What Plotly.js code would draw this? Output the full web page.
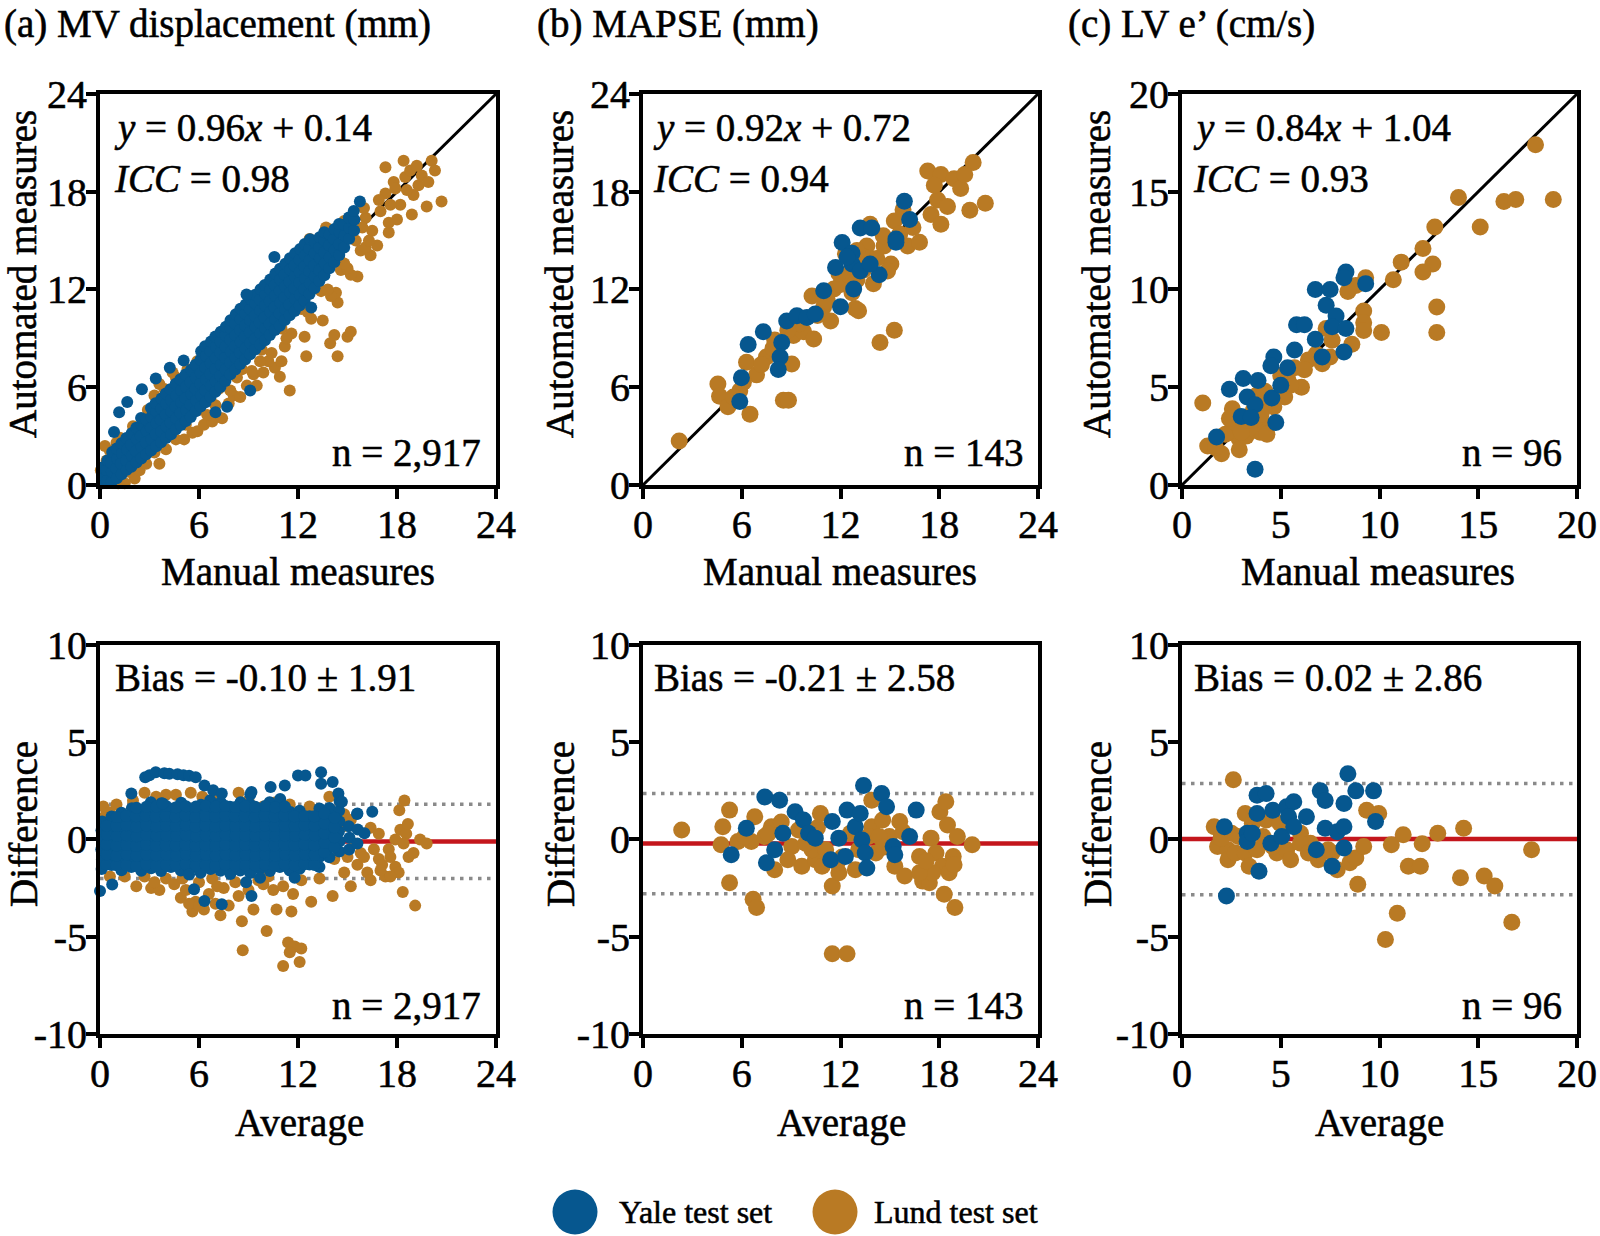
<!DOCTYPE html>
<html><head><meta charset="utf-8">
<script src="https://cdn.plot.ly/plotly-3.0.1.min.js"></script>
<style>html,body{margin:0;padding:0;background:#fff}
#chart text{stroke:#000;stroke-width:0.55px;}</style>
</head><body><div id="chart" style="width:1600px;height:1236px"></div>
<script>
// ---------- DATA ----------
const panelTitles = ["(a) MV displacement (mm)", "(b) MAPSE (mm)", "(c) LV e\u2019 (cm/s)"];
const regressionText = ["<i>y</i> = 0.96<i>x</i> + 0.14", "<i>y</i> = 0.92<i>x</i> + 0.72", "<i>y</i> = 0.84<i>x</i> + 1.04"];
const iccText = ["<i>ICC</i> = 0.98", "<i>ICC</i> = 0.94", "<i>ICC</i> = 0.93"];
const nText = ["n = 2,917", "n = 143", "n = 96"];
const biasVals = [-0.10, -0.21, 0.02];
const loaVals = [1.91, 2.58, 2.86];
const axisMax = [24, 24, 20];
const xTicksTop = [[0,6,12,18,24],[0,6,12,18,24],[0,5,10,15,20]];
const diffTickVals = [-10,-5,0,5,10];
const diffTickText = ["-10","-5","0","5","10"];
const seriesNames = ["Yale test set", "Lund test set"];

// (a) MV displacement: [manual, automated]
const aTopYale = [
[0.15,0.1],[0.18,0.62],[0.12,1.08],[0.42,0.28],[0.38,0.92],[0.45,1.5],
[0.7,0.18],[0.72,0.81],[0.66,1.38],[0.74,2.02],[1.02,0.42],[0.98,1.03],[1.05,1.61],[1.01,2.24],
[1.31,0.66],[1.28,1.32],[1.34,1.93],[1.3,2.57],[1.62,0.93],[1.58,1.52],[1.64,2.18],[1.6,2.88],
[1.9,1.12],[1.93,1.79],[1.88,2.47],[1.92,3.18],[2.21,1.38],[2.18,2.07],[2.24,2.81],[2.2,3.52],
[2.5,1.63],[2.53,2.31],[2.47,3.02],[2.52,3.68],[2.49,4.12],[2.8,1.88],[2.78,2.62],[2.83,3.31],[2.79,4.02],
[3.1,2.12],[3.13,2.79],[3.08,3.52],[3.12,4.18],[3.09,4.72],[3.41,2.38],[3.38,3.11],[3.43,3.79],[3.4,4.52],[3.37,5.02],
[3.7,2.62],[3.72,3.28],[3.68,4.01],[3.71,4.68],[3.73,5.31],[4.0,2.88],[4.03,3.59],[3.98,4.31],[4.02,4.98],[3.99,5.62],
[4.31,3.12],[4.28,3.82],[4.33,4.49],[4.3,5.22],[4.27,5.88],[4.6,3.42],[4.62,4.09],[4.58,4.82],[4.63,5.48],[4.59,6.21],
[4.9,3.68],[4.88,4.42],[4.93,5.08],[4.91,5.81],[4.87,6.49],[5.2,3.92],[5.23,4.61],[5.18,5.32],[5.21,6.02],[5.19,6.78],
[5.5,4.18],[5.48,4.92],[5.53,5.58],[5.49,6.31],[5.52,7.08],[5.8,4.52],[5.83,5.18],[5.78,5.91],[5.81,6.62],[5.79,7.38],
[6.1,4.81],[6.12,5.49],[6.08,6.22],[6.11,6.88],[6.09,7.69],[6.13,8.21],[6.4,5.08],[6.38,5.82],[6.43,6.48],[6.39,7.21],[6.42,7.92],[6.37,8.52],
[6.7,5.41],[6.72,6.09],[6.68,6.82],[6.71,7.48],[6.69,8.22],[6.73,8.81],[7.0,5.72],[7.02,6.38],[6.98,7.12],[7.01,7.79],[7.03,8.49],[6.99,9.12],
[7.3,6.02],[7.28,6.71],[7.33,7.38],[7.29,8.12],[7.31,8.79],[7.32,9.41],[7.6,6.38],[7.62,7.09],[7.58,7.81],[7.61,8.48],[7.59,9.21],[7.63,9.72],
[7.9,6.79],[7.88,7.52],[7.93,8.18],[7.89,8.91],[7.92,9.62],[7.91,10.12],[8.2,7.09],[8.22,7.81],[8.18,8.52],[8.21,9.19],[8.19,9.91],[8.23,10.48],
[8.5,7.42],[8.48,8.12],[8.53,8.79],[8.49,9.52],[8.52,10.18],[8.51,10.82],[8.8,7.71],[8.82,8.38],[8.78,9.12],[8.81,9.79],[8.79,10.52],[8.83,11.08],
[9.1,8.02],[9.12,8.71],[9.08,9.38],[9.11,10.12],[9.09,10.79],[9.13,11.42],[9.4,8.31],[9.38,8.98],[9.43,9.72],[9.39,10.38],[9.42,11.12],[9.41,11.68],
[9.7,8.62],[9.72,9.31],[9.68,9.98],[9.71,10.72],[9.69,11.38],[9.73,12.02],[10.0,8.88],[10.02,9.62],[9.98,10.28],[10.01,11.02],[10.03,11.71],[9.99,12.28],
[10.3,9.21],[10.28,9.88],[10.33,10.62],[10.29,11.28],[10.31,12.02],[10.32,12.62],[10.6,9.52],[10.62,10.18],[10.58,10.91],[10.61,11.62],[10.59,12.28],[10.63,12.98],
[10.9,9.78],[10.88,10.52],[10.93,11.18],[10.89,11.92],[10.92,12.61],[10.91,13.28],[11.2,10.12],[11.22,10.79],[11.18,11.52],[11.21,12.18],[11.19,12.92],[11.23,13.58],
[11.5,10.42],[11.48,11.08],[11.53,11.82],[11.49,12.48],[11.52,13.22],[11.51,13.92],[11.8,10.68],[11.82,11.42],[11.78,12.08],[11.81,12.82],[11.79,13.48],[11.83,14.22],
[12.1,11.02],[12.12,11.68],[12.08,12.42],[12.11,13.08],[12.09,13.82],[12.13,14.48],[12.4,11.31],[12.38,12.02],[12.43,12.68],[12.39,13.42],[12.42,14.08],[12.41,14.79],
[12.7,11.72],[12.72,12.38],[12.68,13.12],[12.71,13.78],[12.69,14.52],[12.73,15.08],[13.0,12.08],[13.02,12.82],[12.98,13.48],[13.01,14.22],[13.03,14.88],
[13.3,12.52],[13.28,13.18],[13.33,13.92],[13.29,14.58],[13.31,15.21],[13.6,12.88],[13.62,13.62],[13.58,14.28],[13.61,15.02],[13.59,15.52],
[13.9,13.31],[13.92,13.98],[13.88,14.72],[13.91,15.38],[14.2,13.68],[14.22,14.42],[14.18,15.08],[14.21,15.72],
[14.5,14.12],[14.48,14.78],[14.53,15.52],[14.49,16.02],[14.8,14.58],[14.82,15.31],[14.78,15.98],
[15.1,15.12],[15.12,15.78],[15.08,16.42],[15.4,15.62],[15.42,16.28],[15.38,16.82],[15.75,17.4],
[0.85,3.25],[1.16,4.46],[1.65,5.1],[2.54,5.88],[3.38,6.54],[4.23,7.2],[5.07,7.64],[10.57,14.0],[8.88,11.7],
[12.8,10.9],[9.1,5.8],[7.7,4.8],[7.0,4.46]
];
const aTopLund = [
[0.05,0.9],[0.4,1.5],[0.6,2.1],[0.2,0.3],[0.9,0.3],[1.1,0.1],[1.5,0.1],[2.1,0.4],[1.8,0.8],[2.4,0.9],[0.3,2.4],[1.0,2.6],
[1.2,2.9],[2.0,3.6],[2.9,4.6],[3.3,5.5],[3.9,5.9],[4.6,6.6],[5.3,7.1],[5.9,7.6],[3.6,6.2],[4.4,6.9],
[2.8,1.3],[3.6,1.3],[3.3,2.0],[4.0,2.2],[4.6,2.8],[5.1,2.8],[5.6,3.2],[5.9,3.3],[6.3,3.7],[6.8,3.9],[7.4,4.1],[7.0,4.9],
[7.8,5.0],[8.1,5.5],[8.5,5.4],[8.9,6.1],[9.5,6.1],[9.3,6.8],[9.9,6.9],[10.6,7.2],[10.2,7.6],[11.0,7.6],[11.2,8.5],[10.9,6.65],
[11.5,5.8],[12.4,9.1],[12.5,7.9],[13.5,10.1],[13.95,8.7],[14.4,7.9],[14.2,9.2],[15.0,9.1],[15.2,9.4],[14.4,11.2],[14.3,11.8],[15.6,12.8],
[5.2,3.7],[6.0,4.6],[6.5,4.3],[7.2,5.9],[7.9,5.8],[8.6,7.1],[9.2,7.0],[9.8,8.3],[10.4,8.1],[11.0,9.6],[11.6,9.3],[12.2,10.8],
[12.8,10.2],[13.4,11.9],[14.0,11.6],[14.6,13.2],[15.2,12.9],[15.8,14.4],[16.4,14.1],[16.8,14.7],[17.5,15.5],
[4.3,3.0],[5.7,5.0],[6.7,5.2],[7.6,6.9],[8.3,6.6],[9.0,8.2],[9.7,7.6],[10.5,9.8],[11.3,9.0],[12.0,11.3],[12.6,10.6],[13.2,12.6],
[13.8,12.0],[14.5,13.9],[15.0,13.3],[15.5,15.0],[16.1,14.6],
[16.1,16.4],[16.5,15.6],[17.0,16.8],[17.3,17.9],[17.3,19.5],[17.8,18.6],[18.2,17.2],[18.5,18.9],[18.8,19.3],[19.0,17.8],[19.3,18.4],
[19.5,19.0],[19.8,17.1],[20.1,19.9],[20.3,19.3],[20.7,17.4],[18.0,16.3],[17.5,16.1],[18.9,16.6],[19.9,18.6],[16.9,17.5],[18.4,19.9],
[17.9,18.2],[16.3,15.0],[16.0,17.0],[18.6,18.1],[17.6,17.2],[19.2,19.6],
[12.7,15.1],[13.7,15.8],[14.8,16.2],[14.4,14.5],[14.8,13.6],[13.2,14.7],[15.3,15.2],[15.9,15.8]
];
// (a) Bland-Altman: [average, difference]
const aBotYale = [
[0.1,-1.52],[0.12,-1.02],[0.08,-0.5],[0.11,0.02],[0.09,0.48],[0.13,0.92],
[0.7,-1.31],[0.68,-0.79],[0.72,-0.28],[0.69,0.21],[0.71,0.72],[0.7,1.18],
[1.3,-1.58],[1.32,-1.08],[1.28,-0.61],[1.31,-0.08],[1.29,0.41],[1.33,0.92],[1.3,1.38],
[1.9,-1.42],[1.88,-0.91],[1.92,-0.38],[1.89,0.12],[1.91,0.62],[1.9,1.08],[1.93,1.61],
[2.5,-1.61],[2.52,-1.08],[2.48,-0.59],[2.51,-0.11],[2.49,0.41],[2.53,0.88],[2.5,1.42],
[3.1,-1.48],[3.08,-1.01],[3.12,-0.52],[3.09,0.02],[3.11,0.49],[3.1,1.02],[3.13,1.48],[3.08,1.92],
[3.7,-1.62],[3.72,-1.09],[3.68,-0.61],[3.71,-0.09],[3.69,0.38],[3.73,0.91],[3.7,1.41],[3.72,1.86],
[4.3,-1.41],[4.28,-0.88],[4.32,-0.41],[4.29,0.12],[4.31,0.59],[4.3,1.12],[4.33,1.58],
[4.9,-1.59],[4.92,-1.11],[4.88,-0.58],[4.91,-0.09],[4.89,0.42],[4.93,0.88],[4.9,1.41],[4.92,1.89],
[5.5,-1.48],[5.48,-0.99],[5.52,-0.52],[5.49,0.01],[5.51,0.51],[5.5,0.98],[5.53,1.52],
[6.1,-1.71],[6.12,-1.18],[6.08,-0.71],[6.11,-0.19],[6.09,0.31],[6.13,0.79],[6.1,1.32],[6.12,1.78],
[6.7,-1.52],[6.68,-0.98],[6.72,-0.51],[6.69,0.02],[6.71,0.49],[6.7,1.01],[6.73,1.49],[6.68,2.02],
[7.3,-1.61],[7.32,-1.09],[7.28,-0.62],[7.31,-0.08],[7.29,0.41],[7.33,0.89],[7.3,1.41],[7.32,1.91],
[7.9,-1.78],[7.88,-1.31],[7.92,-0.79],[7.89,-0.31],[7.91,0.22],[7.9,0.69],[7.93,1.21],[7.88,1.68],
[8.5,-1.59],[8.52,-1.12],[8.48,-0.59],[8.51,-0.11],[8.49,0.41],[8.53,0.88],[8.5,1.42],[8.52,1.91],
[9.1,-1.72],[9.08,-1.19],[9.12,-0.72],[9.09,-0.19],[9.11,0.29],[9.1,0.82],[9.13,1.29],[9.08,1.82],[9.11,2.31],
[9.7,-1.49],[9.72,-1.02],[9.68,-0.49],[9.71,0.01],[9.69,0.52],[9.73,0.98],[9.7,1.51],
[10.3,-1.62],[10.28,-1.09],[10.32,-0.61],[10.29,-0.08],[10.31,0.41],[10.3,0.91],[10.33,1.39],[10.28,1.92],
[10.9,-1.41],[10.92,-0.92],[10.88,-0.39],[10.91,0.09],[10.89,0.61],[10.93,1.08],[10.9,1.61],[10.92,2.08],
[11.5,-1.59],[11.48,-1.11],[11.52,-0.58],[11.49,-0.09],[11.51,0.42],[11.5,0.89],[11.53,1.41],
[12.1,-1.51],[12.12,-0.99],[12.08,-0.52],[12.11,0.01],[12.09,0.49],[12.13,1.02],[12.1,1.48],
[12.7,-1.29],[12.68,-0.81],[12.72,-0.28],[12.69,0.19],[12.71,0.72],[12.7,1.19],
[13.3,-1.42],[13.32,-0.89],[13.28,-0.41],[13.31,0.12],[13.29,0.58],[13.33,1.11],[13.3,1.59],
[13.9,-0.91],[13.88,-0.39],[13.92,0.08],[13.89,0.61],[13.91,1.09],[13.9,1.62],
[14.5,-0.62],[14.52,-0.09],[14.48,0.41],[14.51,0.92],[14.49,1.48],[14.52,1.98],
[15.1,-0.52],[15.12,0.09],[15.08,0.68],[15.6,-0.21],[15.62,0.52],[15.58,1.31],[16.03,0.32],
[0.4,-1.28],[0.41,-0.77],[0.39,-0.26],[0.42,0.24],[0.4,0.71],
[1.0,-1.33],[1.01,-0.82],[0.99,-0.31],[1.02,0.18],[1.0,0.69],[1.01,1.16],
[1.6,-1.31],[1.62,-0.79],[1.59,-0.28],[1.61,0.22],[1.6,0.73],[1.58,1.21],
[2.2,-1.36],[2.21,-0.84],[2.19,-0.33],[2.22,0.17],[2.2,0.66],[2.18,1.19],[2.21,1.63],
[2.8,-1.29],[2.82,-0.78],[2.79,-0.27],[2.81,0.23],[2.8,0.72],[2.78,1.22],[2.81,1.68],
[3.4,-1.34],[3.41,-0.81],[3.39,-0.32],[3.42,0.19],[3.4,0.68],[3.38,1.18],[3.41,1.69],
[4.0,-1.31],[4.02,-0.79],[3.99,-0.29],[4.01,0.21],[4.0,0.71],[3.98,1.21],[4.01,1.72],
[4.6,-1.33],[4.61,-0.83],[4.59,-0.31],[4.62,0.18],[4.6,0.69],[4.58,1.17],[4.61,1.66],
[5.2,-1.28],[5.22,-0.77],[5.19,-0.28],[5.21,0.22],[5.2,0.73],[5.18,1.23],[5.21,1.71],
[5.8,-1.35],[5.81,-0.82],[5.79,-0.33],[5.82,0.17],[5.8,0.67],[5.78,1.16],[5.81,1.69],
[6.4,-1.31],[6.42,-0.79],[6.39,-0.29],[6.41,0.21],[6.4,0.71],[6.38,1.21],[6.41,1.74],
[7.0,-1.36],[7.01,-0.84],[6.99,-0.32],[7.02,0.18],[7.0,0.68],[6.98,1.18],[7.01,1.69],
[7.6,-1.29],[7.62,-0.78],[7.59,-0.27],[7.61,0.23],[7.6,0.72],[7.58,1.22],[7.61,1.72],
[8.2,-1.34],[8.21,-0.81],[8.19,-0.31],[8.22,0.19],[8.2,0.69],[8.18,1.19],[8.21,1.67],
[8.8,-1.32],[8.82,-0.8],[8.79,-0.28],[8.81,0.21],[8.8,0.71],[8.78,1.2],[8.81,1.71],
[9.4,-1.33],[9.41,-0.83],[9.39,-0.32],[9.42,0.18],[9.4,0.68],[9.38,1.17],[9.41,1.68],
[10.0,-1.3],[10.02,-0.78],[9.99,-0.29],[10.01,0.22],[10.0,0.72],[9.98,1.21],[10.01,1.72],
[10.6,-1.35],[10.61,-0.82],[10.59,-0.31],[10.62,0.19],[10.6,0.69],[10.58,1.18],[10.61,1.66],
[11.2,-1.29],[11.22,-0.79],[11.19,-0.28],[11.21,0.21],[11.2,0.71],[11.18,1.22],[11.21,1.69],
[11.8,-1.32],[11.81,-0.81],[11.79,-0.3],[11.82,0.2],[11.8,0.7],[11.78,1.19],
[12.4,-1.27],[12.42,-0.77],[12.39,-0.26],[12.41,0.24],[12.4,0.73],[12.38,1.21],
[13.0,-1.31],[13.01,-0.8],[12.99,-0.29],[13.02,0.22],[13.0,0.71],[12.98,1.2],
[13.6,-0.66],[13.62,-0.18],[13.59,0.31],[13.61,0.82],[13.6,1.33],
[14.2,-0.4],[14.21,0.12],[14.19,0.63],[14.22,1.12],
[2.74,3.2],[3.0,3.3],[3.38,3.46],[3.9,3.4],[4.2,3.38],[4.7,3.35],[5.06,3.3],[5.4,3.28],[5.8,3.2],[6.33,2.78],[6.86,2.53],[7.38,2.36],
[1.9,2.36],[3.8,1.85],[9.18,2.44],[10.34,2.7],[11.2,2.78],[12.0,3.29],[12.45,3.29],[13.4,3.46],[13.4,2.87],[14.1,2.95],
[14.45,2.36],[14.66,1.94],[15.6,1.34],[16.5,1.43],[0.0,-2.65],[0.74,-2.31],[5.7,-2.56],[6.33,-3.16],[7.38,-3.33],
[9.18,-2.9],[9.7,-1.97],[11.8,-1.97],[5.4,-1.8],[8.86,-2.2]
];
const aBotLund = [
[1.5,-1.9],[2.2,-2.4],[3.1,-2.5],[3.6,-2.6],[4.0,-2.0],[4.5,-2.3],[4.9,-3.0],[5.2,-2.6],[5.6,-3.7],[5.8,-3.2],[6.0,-2.2],
[6.3,-3.6],[6.6,-2.8],[7.0,-3.3],[7.3,-3.9],[7.5,-2.5],[7.8,-3.4],[8.2,-2.2],[8.6,-4.2],[8.4,-2.9],[9.0,-2.6],[9.3,-3.6],
[9.6,-2.1],[10.1,-4.7],[10.5,-2.6],[10.7,-3.6],[11.1,-2.4],[11.6,-3.7],[11.7,-2.8],[12.2,-2.1],[12.8,-3.2],[13.3,-2.0],
[8.65,-5.7],[11.1,-6.5],[11.4,-5.3],[11.8,-5.5],[12.2,-5.6],[12.1,-6.3],[11.5,-5.8],[0.6,-1.9],[2.7,-1.9],[3.3,-2.2],
[5.0,-2.0],[6.8,-2.0],[5.4,-3.3],[6.0,-3.4],[7.1,-2.4],[9.9,-2.3],[10.2,-1.9],
[0.2,1.7],[0.6,1.4],[0.3,1.2],[1.0,1.8],[2.0,2.0],[2.7,2.4],[3.4,2.2],[4.0,2.3],[4.6,2.3],[5.5,2.4],[6.2,2.2],[7.0,2.1],
[8.4,2.4],[9.0,2.0],[9.9,1.7],[10.6,1.9],[11.5,1.8],[12.7,1.7],[13.9,2.2],[14.8,1.3],
[14.2,-1.0],[14.8,-1.7],[15.2,-2.4],[14.1,-2.9],[15.4,-0.2],[14.8,0.7],[15.2,1.0],[15.8,-0.7],[15.6,-1.3],[16.2,-1.7],
[16.4,0.6],[16.6,-0.5],[16.9,0.3],[16.9,-1.0],[17.3,-1.9],[17.1,-1.3],[17.5,-0.5],[17.9,0.0],[17.9,-1.4],[17.6,-0.9],
[18.1,-1.7],[18.35,-2.7],[18.2,0.5],[18.56,0.3],[18.45,2.0],[18.14,1.5],[18.66,0.8],[18.7,-0.9],[19.0,-0.7],[19.1,-3.4],
[19.4,0.0],[19.8,-0.2],[18.4,-0.2],[16.0,-0.9],[17.0,-1.6],[15.0,-0.9],[16.4,-2.1],[17.6,-1.9]
];

// (b) MAPSE
const bTopYale = [
[5.88,5.12],[5.98,6.59],[6.39,8.63],[7.31,9.4],[8.43,8.74],[8.33,7.86],[8.22,7.09],[8.73,10.06],[9.35,10.39],[9.96,10.28],
[10.47,10.5],[10.98,11.92],[12.0,10.94],[11.7,13.35],[12.1,14.89],[12.7,14.23],[12.7,13.57],[12.8,12.03],[13.2,13.13],
[13.2,15.77],[13.9,15.77],[14.35,12.9],[13.8,13.57],[15.37,15.1],[15.37,14.9],[15.88,17.41],[16.2,16.3],[12.4,14.0]
];
const bTopLund = [
[2.2,2.7],[4.55,6.2],[4.65,5.45],[5.16,4.8],[6.5,4.35],[8.53,5.2],[8.84,5.2],[5.88,5.78],[6.29,7.53],[6.9,6.76],[7.5,7.86],
[7.9,8.4],[9.04,7.42],[9.14,9.18],[9.76,9.4],[10.37,8.96],[10.27,11.6],[11.4,10.06],[10.98,10.94],[12.9,10.83],[13.1,10.7],
[12.7,11.8],[14.0,12.36],[14.4,8.74],[15.27,9.5],[13.6,14.67],[13.8,16.0],[14.65,14.67],[15.06,13.57],[15.27,16.2],
[16.08,14.67],[16.8,14.9],[17.3,19.28],[18.1,19.06],[17.5,16.6],[18.1,16.0],[17.9,17.5],[18.5,17.1],[18.9,18.8],[19.3,18.2],
[20.06,19.8],[19.86,16.86],[20.8,17.3],[19.55,19.06],[17.7,18.4],[11.6,12.03],[13.4,14.0],[14.86,13.13],[10.6,10.4],
[11.2,11.3],[12.0,12.3],[12.5,12.9],[13.0,12.6],[13.4,13.2],[14.2,13.9],[14.6,15.3],[15.6,15.4],[16.4,15.8],[9.5,9.9],
[8.8,9.5],[8.0,8.9],[7.2,7.4],[6.1,6.3],[5.5,5.4],[11.9,13.0],[12.3,14.2],[13.0,14.4],[15.8,16.9]
];
const bBotYale = [
[5.36,-0.78],[6.28,0.58],[7.5,-1.2],[8.0,-0.53],[7.4,2.19],[8.3,2.02],[8.5,0.32],[9.24,1.43],[9.75,1.0],[10.06,0.32],
[10.47,0.07],[11.5,0.92],[11.4,-1.04],[11.9,0.07],[12.3,-0.87],[12.4,1.51],[12.9,0.66],[13.2,1.34],[13.3,-0.02],[13.5,-0.7],
[13.6,-1.46],[13.4,2.78],[14.5,2.36],[14.8,1.68],[15.2,-0.36],[15.3,-0.78],[16.2,0.15],[16.6,1.51]
];
const bBotLund = [
[2.35,0.49],[4.85,0.66],[4.74,-0.27],[5.26,1.51],[5.26,-2.22],[5.77,-0.1],[6.79,1.17],[6.58,-0.1],[6.69,-3.07],[6.9,-3.5],
[7.4,0.15],[7.8,0.66],[8.0,-1.55],[9.04,-0.36],[9.65,-1.38],[9.45,0.49],[10.47,-1.04],[10.78,1.34],[10.27,-0.53],[10.88,-1.38],
[11.5,-2.39],[11.5,-5.87],[12.4,-5.87],[11.9,-1.71],[11.8,-1.2],[12.9,-1.55],[13.1,-0.53],[13.9,2.02],[13.9,0.66],[14.15,-0.7],
[14.56,1.0],[14.97,0.15],[15.3,-1.38],[15.9,-1.88],[15.6,0.92],[16.8,-0.87],[16.99,-2.14],[17.4,-2.22],[17.5,0.07],[17.8,-0.7],
[18.04,1.43],[18.4,1.94],[18.2,-1.38],[18.6,-1.71],[18.3,-2.82],[18.95,-3.5],[18.5,0.75],[18.85,-0.87],[19.1,0.15],[20.0,-0.27],
[17.6,-1.71],[16.8,-1.71],[8.8,-1.04],[6.18,0.15],[12.6,0.32],[13.7,0.15],[14.35,0.15],[11.1,-0.53],[8.4,0.9],[9.9,-0.2],
[12.1,-0.9],[14.6,-0.4],[15.8,0.4],[17.2,-1.1],[18.9,-1.3],[7.6,0.3],[10.6,0.6]
];

// (c) LV e'
const cTopYale = [
[3.7,0.8],[1.75,2.45],[2.4,4.9],[3.1,5.45],[3.85,5.35],[3.0,3.5],[3.3,4.5],[3.7,4.1],[3.5,3.45],[4.75,3.2],[4.55,4.45],
[5.0,5.1],[4.65,6.55],[4.5,6.1],[5.35,6.0],[5.7,6.9],[5.8,8.2],[6.2,8.2],[6.75,7.45],[7.1,6.55],[6.75,10.0],[7.5,10.0],
[7.3,9.2],[7.8,8.65],[7.6,8.1],[8.3,8.0],[8.2,6.8],[8.3,10.9],[8.2,10.6],[9.3,10.3]
];
const cTopLund = [
[1.05,4.2],[17.9,17.4],[14.0,14.7],[16.3,14.5],[16.9,14.6],[18.8,14.6],[15.1,13.2],[12.8,13.2],[12.2,12.1],[11.1,11.4],
[12.7,11.3],[12.2,10.9],[10.7,10.5],[12.9,9.1],[12.9,7.8],[10.1,7.8],[8.8,10.2],[9.3,10.6],[9.2,8.9],[9.2,8.3],[9.2,7.9],
[8.6,7.2],[7.3,8.0],[6.4,6.4],[6.8,6.7],[7.5,6.55],[6.05,5.0],[5.7,6.0],[5.2,4.5],[5.35,5.45],[4.65,4.0],[4.1,3.1],[3.95,2.7],
[3.6,3.8],[2.55,3.9],[2.55,2.9],[2.9,2.35],[2.9,1.8],[1.3,2.0],[2.0,1.6],[3.25,2.5],[4.3,2.6],[3.7,3.35],[2.2,2.6],[3.1,3.0],
[3.4,2.9],[4.0,3.6],[2.7,3.2],[1.7,1.9],[3.0,2.7],[4.4,4.3],[5.5,5.1],[6.2,5.9],[7.1,6.2],[7.6,7.4],[3.8,4.6],[4.2,4.8],
[5.0,5.6],[2.4,3.4],[3.3,3.3],[8.4,9.9]
];
const cBotYale = [
[2.25,-2.9],[2.15,0.66],[3.3,0.32],[3.3,-0.1],[3.8,1.34],[3.9,-1.63],[3.8,2.27],[4.26,2.36],[3.56,0.32],[4.5,-0.19],[4.6,1.5],
[5.05,0.15],[5.3,1.68],[5.66,1.94],[5.4,1.17],[5.66,0.66],[6.3,1.17],[6.8,-0.53],[7.0,2.5],[7.25,2.0],[7.25,0.58],[7.6,-1.38],
[7.86,0.4],[8.2,0.66],[8.2,1.85],[8.4,3.38],[8.2,-0.44],[8.8,2.5],[9.7,2.5],[9.8,0.92]
];
const cBotLund = [
[2.6,3.07],[1.63,0.66],[1.8,-0.36],[2.33,-0.53],[2.33,-1.04],[2.86,0.15],[2.7,-0.7],[3.2,1.34],[3.2,-0.7],[3.4,-1.38],[3.8,-0.53],
[4.26,1.0],[4.8,-0.7],[5.3,-0.53],[5.5,-1.04],[4.96,0.83],[6.0,0.32],[6.5,-0.19],[6.9,-1.04],[7.6,-0.7],[7.86,-1.55],[8.5,-1.2],
[8.8,-0.95],[9.2,-0.36],[8.9,-2.3],[9.35,1.5],[9.96,1.34],[10.6,-0.27],[11.2,0.24],[11.46,-1.38],[12.07,-1.38],[12.16,-0.22],
[12.95,0.32],[14.26,0.58],[14.1,-1.97],[15.3,-1.88],[15.84,-2.39],[16.7,-4.26],[17.7,-0.53],[10.3,-5.14],[10.9,-3.79],
[2.5,0.32],[1.98,0.07],[3.56,0.83],[4.1,0.15],[4.6,-0.36],[6.0,-0.19],[6.4,-0.7],[7.4,-0.53]
];

// ---------- STYLE ----------
const BLUE = '#06578f';
const ORANGE = '#b97a24';
const FONT = 'Liberation Serif';
const W = 1600, H = 1236;
const px = v => v / W;
const py = v => 1 - v / H;

const topX = [[0.0625,0.31],[0.401875,0.64875],[0.73875,0.985625]];
const botX = [[0.0625,0.31],[0.401875,0.64875],[0.73875,0.985625]];
const topY = [0.60761,0.92395];
const botY = [0.16343,0.47816];

const topSizes = [12, 17, 17];
const botSizes = [12, 17, 17];

const topData = [[aTopYale,aTopLund],[bTopYale,bTopLund],[cTopYale,cTopLund]];
const botData = [[aBotYale,aBotLund],[bBotYale,bBotLund],[cBotYale,cBotLund]];

const traces = [];
const layout = {
  width: W, height: H,
  margin: {l:0, r:0, t:0, b:0},
  paper_bgcolor: '#fff', plot_bgcolor: 'rgba(0,0,0,0)',
  showlegend: false,
  font: {family: FONT, color: '#000', size: 39},
  annotations: [], shapes: []
};

function axisBase(extra) {
  return Object.assign({
    showline: true, mirror: true, linecolor: '#000', linewidth: 4,
    ticks: 'outside', ticklen: 10, tickwidth: 4, tickcolor: '#000',
    ticklabelstandoff: -9,
    showgrid: false, zeroline: false, fixedrange: true,
    tickfont: {family: FONT, size: 40, color: '#000'}
  }, extra);
}

function ann(text, x, y, xanchor, extra) {
  layout.annotations.push(Object.assign({
    text: text, xref: 'paper', yref: 'paper', x: px(x), y: py(y),
    xanchor: xanchor, yanchor: 'middle', showarrow: false,
    font: {family: FONT, size: 39, color: '#000'}
  }, extra || {}));
}

const toX = arr => arr.map(p => p[0]);
const toY = arr => arr.map(p => p[1]);

for (let i = 0; i < 3; i++) {
  const tIdx = i + 1, bIdx = i + 4;
  const tx = 'x' + (tIdx === 1 ? '' : tIdx), ty = 'y' + (tIdx === 1 ? '' : tIdx);
  const bx = 'x' + bIdx, by = 'y' + bIdx;
  const m = axisMax[i];

  traces.push({x: [0, m], y: [0, m], xaxis: tx, yaxis: ty, mode: 'lines',
    line: {color: '#000', width: 3}, hoverinfo: 'skip'});
  const [yale, lund] = topData[i];
  traces.push({x: toX(lund), y: toY(lund), xaxis: tx, yaxis: ty, mode: 'markers', name: seriesNames[1],
    cliponaxis: false, marker: {color: ORANGE, size: topSizes[i], line: {width: 0}}});
  traces.push({x: toX(yale), y: toY(yale), xaxis: tx, yaxis: ty, mode: 'markers', name: seriesNames[0],
    cliponaxis: false, marker: {color: BLUE, size: topSizes[i], line: {width: 0}}});

  const b = biasVals[i], l = loaVals[i];
  traces.push({x: [0, m], y: [b + l, b + l], xaxis: bx, yaxis: by, mode: 'lines',
    line: {color: '#8a8a8a', width: 3.5, dash: '3.5px,5.5px'}, hoverinfo: 'skip'});
  traces.push({x: [0, m], y: [b - l, b - l], xaxis: bx, yaxis: by, mode: 'lines',
    line: {color: '#8a8a8a', width: 3.5, dash: '3.5px,5.5px'}, hoverinfo: 'skip'});
  traces.push({x: [0, m], y: [b, b], xaxis: bx, yaxis: by, mode: 'lines',
    line: {color: '#c4161c', width: 4.5}, hoverinfo: 'skip'});
  const [byale, blund] = botData[i];
  traces.push({x: toX(blund), y: toY(blund), xaxis: bx, yaxis: by, mode: 'markers', name: seriesNames[1],
    cliponaxis: false, marker: {color: ORANGE, size: botSizes[i], line: {width: 0}}});
  traces.push({x: toX(byale), y: toY(byale), xaxis: bx, yaxis: by, mode: 'markers', name: seriesNames[0],
    cliponaxis: false, marker: {color: BLUE, size: botSizes[i], line: {width: 0}}});

  const xt = 'xaxis' + (tIdx === 1 ? '' : tIdx), yt = 'yaxis' + (tIdx === 1 ? '' : tIdx);
  layout[xt] = axisBase({domain: topX[i], range: [0, m], tickvals: xTicksTop[i], anchor: ty});
  layout[yt] = axisBase({domain: topY, range: [0, m], tickvals: xTicksTop[i], anchor: tx});
  layout['xaxis' + bIdx] = axisBase({domain: botX[i], range: [0, m], tickvals: xTicksTop[i], anchor: by});
  layout['yaxis' + bIdx] = axisBase({domain: botY, range: [-10, 10], tickvals: diffTickVals, ticktext: diffTickText, anchor: bx});
}

// panel titles
ann(panelTitles[0], 2, 24, 'left');
ann(panelTitles[1], 535, 24, 'left');
ann(panelTitles[2], 1066, 24, 'left');

// axis titles
const xTitleCenters = [298, 840, 1378];
const yTitleCenters = [23, 560, 1097];
for (let i = 0; i < 3; i++) {
  ann('Manual measures', xTitleCenters[i], 572, 'center');
  ann('Average', xTitleCenters[i] + 1, 1123, 'center');
  ann('Automated measures', yTitleCenters[i], 274, 'center', {textangle: -90});
  ann('Difference', yTitleCenters[i], 824, 'center', {textangle: -90});
}

// in-panel statistics
const statLeft = [112, 651, 1191];
const nRight = [483, 1026, 1564];
for (let i = 0; i < 3; i++) {
  ann(regressionText[i], statLeft[i], 128, 'left');
  ann(iccText[i], statLeft[i], 178, 'left');
  ann(nText[i], nRight[i], 453, 'right');
  const b = biasVals[i], l = loaVals[i];
  const biasStr = 'Bias = ' + (b < 0 ? '-' + Math.abs(b).toFixed(2) : b.toFixed(2)) + ' \u00b1 ' + l.toFixed(2);
  ann(biasStr, statLeft[i] + 1, 677, 'left');
  ann(nText[i], nRight[i], 1005, 'right');
}

// legend
const legendItems = [
  {cx: 575, tx: 617, color: BLUE, name: seriesNames[0]},
  {cx: 835, tx: 872, color: ORANGE, name: seriesNames[1]}
];
legendItems.forEach(it => {
  layout.shapes.push({type: 'circle', xref: 'paper', yref: 'paper',
    x0: px(it.cx - 22.5), x1: px(it.cx + 22.5), y0: py(1212 + 22.5), y1: py(1212 - 22.5),
    fillcolor: it.color, line: {width: 0}});
  ann(it.name, it.tx, 1212, 'left', {font: {family: FONT, size: 32, color: '#000'}});
});

Plotly.newPlot('chart', traces, layout, {displayModeBar: false, staticPlot: true});
</script></body></html>
